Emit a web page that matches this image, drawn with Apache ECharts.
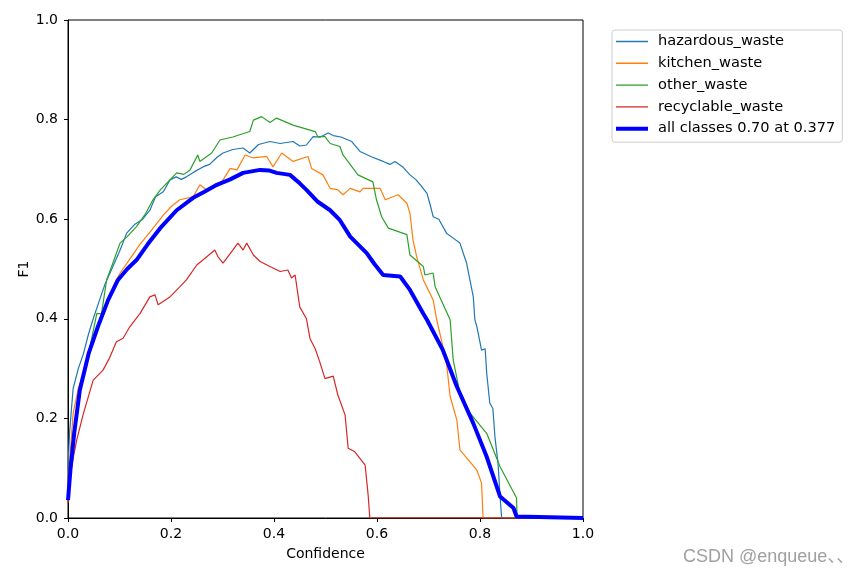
<!DOCTYPE html>
<html><head><meta charset="utf-8">
<script src="https://cdn.jsdelivr.net/npm/echarts@6/dist/echarts.min.js"></script>
<style>html,body{margin:0;padding:0;background:#fff}#c{width:865px;height:577px}</style>
</head><body><div id="c"></div><script>
const seriesNames = ['hazardous_waste','kitchen_waste','other_waste','recyclable_waste','all classes 0.70 at 0.377'];
const tickValues = [0,0.2,0.4,0.6,0.8,1.0];

const confHazard = [0,0.003,0.006,0.01,0.02,0.03,0.04,0.049,0.062,0.072,0.085,0.1,0.114,0.13,0.145,0.159,0.17,0.185,0.198,0.21,0.22,0.23,0.245,0.262,0.275,0.29,0.301,0.32,0.34,0.353,0.37,0.392,0.412,0.437,0.45,0.463,0.476,0.49,0.505,0.515,0.53,0.551,0.567,0.59,0.612,0.625,0.635,0.65,0.664,0.675,0.685,0.697,0.703,0.709,0.72,0.735,0.748,0.761,0.768,0.774,0.78,0.787,0.79,0.794,0.803,0.81,0.813,0.819,0.825,0.829,0.835,0.839,0.842,1.0];
const f1Hazard = [0.10,0.17,0.21,0.26,0.30,0.33,0.37,0.40,0.44,0.47,0.50,0.535,0.572,0.59,0.60,0.618,0.645,0.655,0.679,0.685,0.68,0.685,0.695,0.705,0.71,0.725,0.733,0.74,0.743,0.733,0.75,0.756,0.752,0.756,0.747,0.749,0.766,0.765,0.773,0.768,0.765,0.756,0.736,0.725,0.716,0.71,0.716,0.705,0.689,0.68,0.668,0.652,0.63,0.605,0.60,0.572,0.562,0.552,0.53,0.512,0.48,0.444,0.398,0.384,0.337,0.34,0.291,0.231,0.22,0.163,0.11,0.043,0,0];

const confKitchen = [0,0.005,0.01,0.02,0.03,0.046,0.06,0.075,0.09,0.1,0.12,0.14,0.16,0.185,0.2,0.217,0.243,0.256,0.269,0.295,0.315,0.328,0.344,0.36,0.386,0.398,0.415,0.437,0.466,0.473,0.495,0.509,0.524,0.534,0.548,0.567,0.573,0.606,0.616,0.641,0.658,0.664,0.67,0.677,0.69,0.709,0.716,0.722,0.735,0.742,0.755,0.761,0.794,0.803,0.806,1.0];
const f1Kitchen = [0.07,0.14,0.21,0.26,0.29,0.344,0.39,0.43,0.47,0.49,0.52,0.55,0.575,0.608,0.625,0.639,0.645,0.669,0.659,0.669,0.702,0.699,0.729,0.723,0.726,0.705,0.733,0.716,0.726,0.702,0.689,0.662,0.659,0.649,0.662,0.655,0.662,0.662,0.639,0.649,0.632,0.612,0.558,0.525,0.478,0.438,0.398,0.371,0.311,0.244,0.197,0.137,0.096,0.07,0,0];

const confOther = [0,0.01,0.023,0.04,0.056,0.065,0.075,0.09,0.101,0.115,0.133,0.15,0.165,0.18,0.198,0.211,0.225,0.237,0.252,0.256,0.279,0.295,0.32,0.344,0.353,0.36,0.376,0.392,0.405,0.437,0.48,0.485,0.499,0.509,0.528,0.534,0.563,0.592,0.599,0.609,0.622,0.658,0.664,0.69,0.693,0.709,0.713,0.742,0.748,0.761,0.781,0.813,0.839,0.871,0.872,1.0];
const f1Other = [0.05,0.17,0.26,0.33,0.411,0.41,0.478,0.52,0.552,0.565,0.585,0.61,0.639,0.66,0.679,0.693,0.69,0.699,0.729,0.716,0.733,0.759,0.765,0.773,0.776,0.799,0.806,0.794,0.803,0.789,0.776,0.766,0.766,0.752,0.746,0.729,0.689,0.675,0.639,0.605,0.582,0.569,0.528,0.505,0.488,0.492,0.464,0.398,0.317,0.251,0.21,0.17,0.103,0.04,0,0];

const confRecycle = [0,0.005,0.01,0.017,0.03,0.049,0.068,0.08,0.094,0.107,0.12,0.14,0.159,0.169,0.175,0.198,0.217,0.23,0.25,0.262,0.285,0.291,0.301,0.32,0.33,0.34,0.347,0.36,0.373,0.392,0.412,0.427,0.434,0.441,0.45,0.463,0.47,0.48,0.489,0.499,0.515,0.524,0.538,0.544,0.557,0.577,0.583,0.586,1.0];
const f1Recycle = [0.03,0.09,0.12,0.157,0.21,0.277,0.297,0.32,0.354,0.361,0.384,0.411,0.444,0.448,0.428,0.444,0.464,0.478,0.508,0.518,0.538,0.525,0.512,0.538,0.552,0.538,0.552,0.528,0.515,0.505,0.495,0.498,0.482,0.488,0.424,0.40,0.36,0.34,0.313,0.28,0.285,0.247,0.207,0.14,0.133,0.106,0.044,0,0];

const confAll = [0,0.005,0.012,0.023,0.04,0.058,0.078,0.097,0.115,0.133,0.155,0.179,0.211,0.243,0.265,0.289,0.315,0.34,0.373,0.39,0.405,0.431,0.45,0.463,0.485,0.509,0.528,0.548,0.58,0.595,0.612,0.645,0.664,0.69,0.697,0.728,0.755,0.787,0.813,0.839,0.865,0.871,1.0];
const f1All = [0.036,0.10,0.17,0.257,0.33,0.384,0.438,0.478,0.50,0.518,0.55,0.582,0.618,0.643,0.655,0.669,0.68,0.693,0.699,0.698,0.693,0.689,0.672,0.659,0.635,0.618,0.598,0.565,0.532,0.51,0.488,0.485,0.458,0.41,0.398,0.337,0.264,0.19,0.123,0.043,0.02,0.003,0];

const zip = (xs, ys) => xs.map((x, i) => [x, ys[i]]);
const colors = ['#1f77b4','#ff7f0e','#2ca02c','#d62728','#0000ff'];
const widths = [1.2,1.2,1.2,1.2,4];
const datasets = [zip(confHazard,f1Hazard), zip(confKitchen,f1Kitchen), zip(confOther,f1Other), zip(confRecycle,f1Recycle), zip(confAll,f1All)];

// legend line icons: thin strips at top/bottom keep the 32x14 bounding box
const lineIcon = h => 'path://M0,0h32v0.01h-32z M0,' + (7 - h / 2) + 'h32v' + h + 'h-32z M0,13.99h32v0.01h-32z';

const font = 'DejaVu Sans';
const chart = echarts.init(document.getElementById('c'), null, {renderer:'canvas'});
chart.setOption({
  animation: false,
  backgroundColor: '#fff',
  textStyle: {fontFamily: font},
  grid: {left: 68, right: 282, top: 20, bottom: 59, show: true, borderColor: '#000', borderWidth: 1, backgroundColor: 'transparent'},
  xAxis: {
    type: 'value', min: 0, max: 1, interval: 0.2,
    name: 'Confidence', nameLocation: 'middle', nameGap: 29, nameMoveOverlap: false,
    nameTextStyle: {fontFamily: font, fontSize: 14, color: '#000'},
    axisLine: {show: true, lineStyle: {color: '#000', width: 1}},
    axisTick: {show: true, inside: false, length: 4, lineStyle: {color: '#000'}},
    axisLabel: {fontFamily: font, fontSize: 14, color: '#000', margin: 9, formatter: v => v.toFixed(1)},
    splitLine: {show: false}
  },
  yAxis: {
    type: 'value', min: 0, max: 1, interval: 0.2,
    name: 'F1', nameLocation: 'middle', nameGap: 37, nameRotate: 90, nameMoveOverlap: false,
    nameTextStyle: {fontFamily: font, fontSize: 14, color: '#000'},
    axisLine: {show: true, lineStyle: {color: '#000', width: 1}},
    axisTick: {show: true, inside: false, length: 4, lineStyle: {color: '#000'}},
    axisLabel: {fontFamily: font, fontSize: 14, color: '#000', margin: 10, formatter: v => v.toFixed(1)},
    splitLine: {show: false}
  },
  legend: {
    orient: 'vertical', left: 612, top: 30,
    itemWidth: 32, itemHeight: 14, itemGap: 6.8,
    padding: [4, 7, 6, 4],
    borderColor: '#cccccc', borderWidth: 1, borderRadius: 3,
    backgroundColor: '#fff',
    textStyle: {fontFamily: font, fontSize: 14.6, color: '#000', padding: [0,0,0,5]},
    data: seriesNames.map((n, i) => ({name: n, icon: lineIcon(i === 4 ? 4 : 1.4), itemStyle: {color: colors[i]}}))
  },
  graphic: [{
    type: 'text', left: 683, top: 548,
    style: {text: 'CSDN @enqueue、、', font: '18px "Liberation Sans", "Noto Sans CJK SC", sans-serif', fill: '#a0a0a0'}
  }],
  series: seriesNames.map((name, i) => ({
    name, type: 'line', data: datasets[i], showSymbol: false, symbol: 'none',
    lineStyle: {color: colors[i], width: widths[i]}, itemStyle: {color: colors[i]},
    clip: true, z: 2 + i
  }))
});
</script></body></html>
